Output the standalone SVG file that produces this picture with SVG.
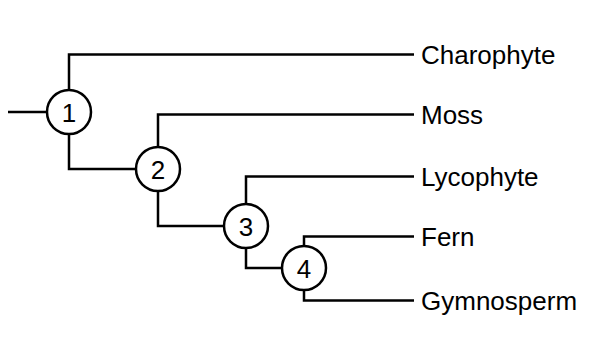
<svg xmlns="http://www.w3.org/2000/svg" width="602" height="350" viewBox="0 0 602 350">
<style>
.e{fill:none;stroke:#000;stroke-width:2.5}
.n circle{fill:#fff;stroke:#000;stroke-width:2.5}
text{font-family:"Liberation Sans",Arial,sans-serif;font-size:26px;fill:#000}
.c{text-anchor:middle}
</style>
<rect width="602" height="350" fill="#fff"/>
<g id="connectors">
<path class="e" d="M8,112H47"/>
<path class="e" d="M69,90V54.5H414"/>
<path class="e" d="M69,134V169H136"/>
<path class="e" d="M158,147V114.5H414"/>
<path class="e" d="M158,191V226H224"/>
<path class="e" d="M246,204V176.5H414"/>
<path class="e" d="M246,248V268H282"/>
<path class="e" d="M304,246V236.5H414"/>
<path class="e" d="M304,290V300.5H414"/>
</g>
<g id="n1" class="n"><circle cx="69" cy="112" r="22"/><text class="c" x="69" y="121.5">1</text></g>
<g id="n2" class="n"><circle cx="158" cy="169" r="22"/><text class="c" x="158" y="178.5">2</text></g>
<g id="n3" class="n"><circle cx="246" cy="226" r="22"/><text class="c" x="246" y="235.5">3</text></g>
<g id="n4" class="n"><circle cx="304" cy="268" r="22"/><text class="c" x="304" y="277.5">4</text></g>
<g id="charophyte"><text x="421" y="64">Charophyte</text></g>
<g id="moss"><text x="421" y="124">Moss</text></g>
<g id="lycophyte"><text x="421" y="186">Lycophyte</text></g>
<g id="fern"><text x="421" y="246">Fern</text></g>
<g id="gymnosperm"><text x="421" y="310">Gymnosperm</text></g>
</svg>
